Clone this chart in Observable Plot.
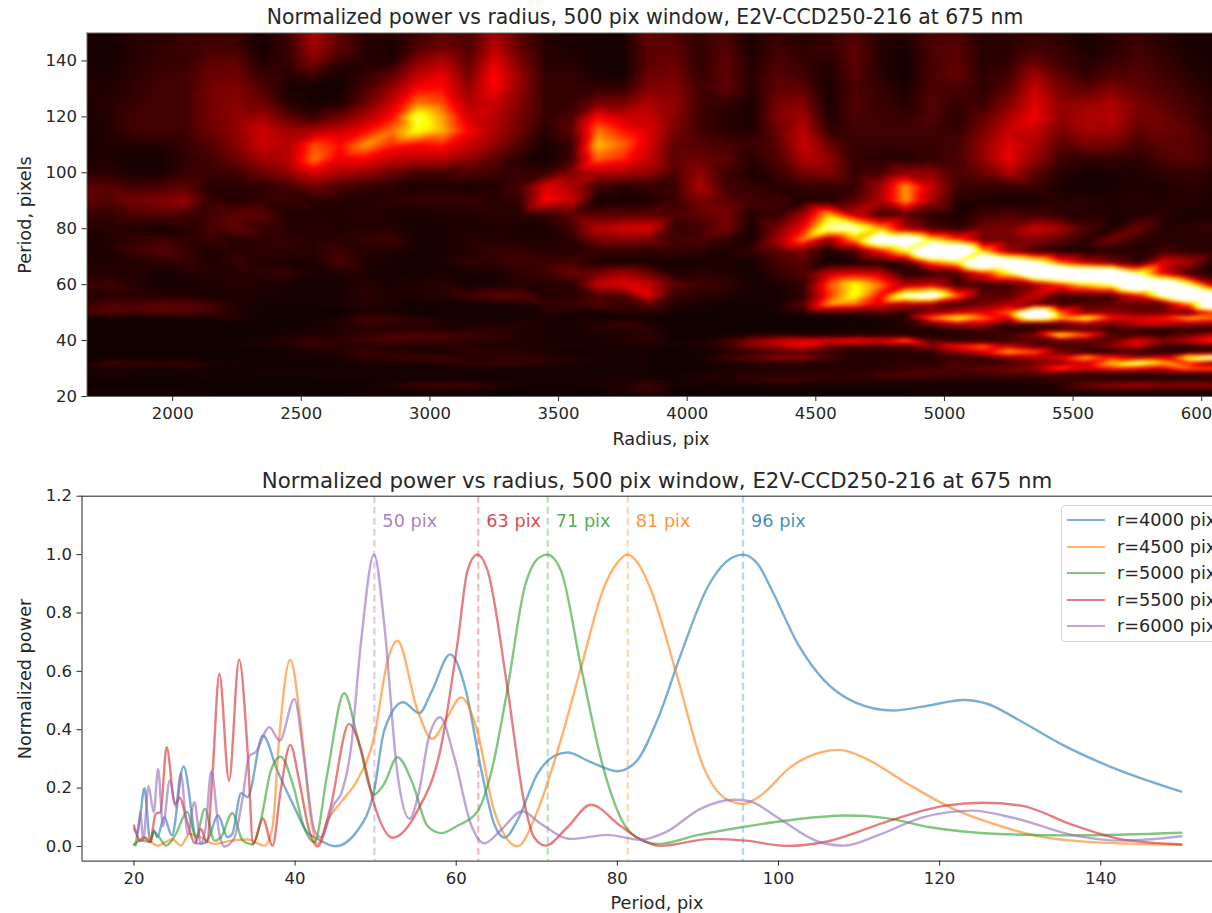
<!DOCTYPE html>
<html>
<head>
<meta charset="utf-8">
<script src="https://cdn.jsdelivr.net/npm/d3@7"></script>
<script src="https://cdn.jsdelivr.net/npm/@observablehq/plot@0.6"></script>
<style>
html,body{margin:0;padding:0;background:#fff;overflow:hidden;width:1212px;height:913px}
body{position:relative;font-family:"DejaVu Sans",sans-serif;color:#262626}
.t{position:absolute;white-space:nowrap;transform:translate(-50%,-50%)}
.lab{font-size:17.7px}
.rot{transform:translate(-50%,-50%) rotate(-90deg)}
#legend{position:absolute;left:1061px;top:505px;width:170px;height:137px;border:1.5px solid #d5d5d5;border-radius:4px;background:#fff;box-sizing:border-box}
#legend div{position:absolute;left:5px;height:0}
#legend i{position:absolute;left:0;top:-1px;width:38px;height:2.4px;opacity:.6}
#legend span{position:absolute;left:50px;top:-11px;font-size:17.7px;line-height:22px;white-space:nowrap}
</style>
</head>
<body>
<div class="t" style="left:645px;top:17px;font-size:20.4px">Normalized power vs radius, 500 pix window, E2V-CCD250-216 at 675 nm</div>
<div class="t lab" style="left:661px;top:439px">Radius, pix</div>
<div class="t lab rot" style="left:25px;top:215px">Period, pixels</div>
<div class="t" style="left:657px;top:480px;font-size:21.3px">Normalized power vs radius, 500 pix window, E2V-CCD250-216 at 675 nm</div>
<div class="t lab" style="left:657px;top:903px">Period, pix</div>
<div class="t lab rot" style="left:25px;top:679px">Normalized power</div>
<div id="legend"></div>
<script>
const radii = d3.range(1650, 6051, 100);
const p150=[.3,.2,.5,.6,.8,.8,.8,.3,1,3,1.5,.6,.5,1,1.5,1.2,2.8,1.5,.5,.3,.3,.2,1.8,1.3,.8,1.2,.4,.8,.6,.7,1.3,.6,.5,1.2,1.2,.6,.6,.8,.6,.3,.6,.8,.5,.3,.3];
const p145=[.3,.2,.5,.7,.9,1.1,1,.2,.8,2.8,1.5,.5,.3,1.2,1.8,1.2,3.2,1.5,.5,.3,.2,.2,1.5,1.5,.7,1.3,.3,1,.6,.8,1.5,.5,.3,1.2,1.4,.5,.6,1,.8,.3,.5,1,.6,.3,.3];
const p140=[.3,.2,.5,.8,.8,1.5,1.5,.4,.8,2.2,.8,.5,.4,2.2,3,1.5,4,2,.5,.5,.2,.2,1.5,1.7,.7,1.5,.4,1.2,.8,.5,1.5,.5,.2,1.1,1.5,.5,.7,1.6,1,.5,.8,1.2,.8,.4,.3];
const p135=[.4,.3,.6,.9,1,1.8,1.8,.8,.5,.8,.3,.8,1.5,3.3,4,2,4.6,2.5,.7,.7,.3,.2,1.8,2,.8,1.6,.5,1.4,1,.4,1.4,.6,.2,1.2,1.6,.6,1,2.8,1.5,.7,1.3,1.4,1,.6,.3];
const p130=[.5,.4,.7,1,1,2,2.2,1.3,.3,.2,.2,1.2,2.6,4.5,4.6,2.5,4.4,2.5,.8,.8,.8,.8,2.2,2.3,1,1.5,.5,1.6,1.5,.3,1.2,.8,.3,1.2,1.2,.6,1.5,3.5,2,1.5,2.2,1.6,1.2,.8,.4];
const p125=[.4,.5,.8,1,1,2,2.3,1.8,.6,.2,.4,1.8,3.5,6,5.4,3,3.5,2.2,.8,.8,2,2,3,2.5,1,.8,.3,2,2.2,.3,1.3,.9,.5,1.4,.8,.9,2.2,4,2.5,2.6,3,2,1.5,1,.5];
const p120=[.3,.5,1,1,1,2,2.4,2.8,1.5,.8,1.8,3,4.5,8.5,6.5,3.8,3.2,2,.8,1.2,4.5,3.5,3.5,2.3,.9,.5,.3,2.2,2.8,.4,1.2,.9,.8,1.3,.6,1.5,3,4.3,2.5,3,3.2,2,1.8,1.2,.6];
const p115=[.2,.5,1,1,1,1.8,2.5,3.6,2.8,3,3.5,4.5,6,8,6.8,4.5,3,1.8,.5,1.5,6,4.8,3.8,2,1,.6,.5,1.8,3.3,.8,1,1,1,1,.8,2,3.5,3.5,2,2.8,2.8,1.6,1.8,1.5,.7];
const p110=[.2,.4,.5,.5,.8,1.3,2.3,3.6,3.2,5.5,4.6,6.5,5,4.5,4.8,3.5,2.5,1.2,.3,.8,7,5.8,3.8,1.5,1.3,1.2,.9,1.5,3.5,1.8,.8,.8,.8,.8,1,2.5,4,3,1.5,2,1.8,1,1.5,1.5,.8];
const p105=[.3,.4,.2,.2,.7,1,1.8,2.8,3.2,6,4.2,4.4,3.5,3.2,3.2,2.5,1.5,.5,.2,1,5.8,5,3.5,1.5,1.8,1.5,.6,1.2,3,2.5,.8,.6,.4,.8,1.2,2.5,4.2,2.5,1,.7,.8,.6,1.2,1.5,.8];
const p100=[.5,.6,.3,.3,.8,.8,1,1.8,2.5,3.8,3,2.5,1.8,1,1,1.2,1,.8,.8,2.2,3,3,2.5,1.2,2.5,1,.3,.9,2,2.2,.8,1,2.5,2.5,1.2,1.8,3,1.5,.5,.2,.3,.4,.7,.8,.5];
const p95=[1.5,1.4,1,1.2,1.5,.5,.5,.6,1,1.8,1.2,.8,.6,.3,.4,.3,.4,1.2,4,3,1,.5,.8,.8,3,1,.8,.5,.8,.8,.8,2.8,6.5,3.5,1,.8,.8,.8,.3,.2,.3,.4,.4,.6,.4];
const p90=[1.6,1.3,2,2.2,2.6,.8,.5,.8,.8,.6,.5,.4,.6,.8,.8,.8,.5,.8,4.5,3.5,.2,.2,.3,.9,2,1.5,1,1,.4,.5,1.5,3,6.5,2.8,.5,.4,.3,.3,.5,.6,.4,.5,.4,.5,.4];
const p85=[.8,.7,1.2,1.3,1,1,1.5,1.5,.4,.4,.4,.5,.3,.3,.4,.4,.6,.5,.8,1.5,1.5,1.5,1.5,1.2,1.6,2,.5,.8,2.8,7,3.5,1,1.5,.6,.3,1,1.3,1,.6,.5,.4,.5,.6,.3,.3];
const p80=[.5,.5,.4,.2,.5,1.2,1.6,.8,.5,.5,.4,.5,.5,.3,.3,.3,.4,.3,.3,1,3.2,3.8,4,.8,1,2,.3,2,4.5,9.5,10,7,3,1.2,.7,2,2.2,3.6,3,1.2,.4,1.8,.5,.6,.8];
const p76=[.3,.4,.7,1,.7,.9,.5,.7,.7,.5,.5,.8,1,.3,.3,.5,.5,.4,.4,.6,2,2.2,2,1,1.2,.8,.3,2.8,6,2.5,6.5,12.5,13,8,5.5,1.8,1.8,2.2,1.5,.7,2,.8,.5,.5,.5];
const p72=[.3,.4,1,1.4,.8,.3,.6,.7,.6,.5,1,.5,.4,.2,.3,.4,.8,.8,.5,.5,.8,.8,.6,.8,.6,.4,.8,1.5,2,.3,1,4.5,8,16,16,7,2.5,1,.4,.3,.5,.4,1,.6,.6];
const p68=[.4,.4,.4,.6,.8,.4,.8,.4,.3,.4,1.2,.4,.3,.2,.3,.7,.7,1,.9,1.1,.3,.2,.3,.2,.3,.3,.2,1,1.5,.1,.2,.4,1.2,6,8,16,13,10,5.5,3,1.8,.6,4,3,.4];
const p64=[.5,.5,.5,.2,.4,.5,.5,.6,.8,.3,.4,.3,.3,.2,.3,.3,.3,.7,1,1.8,2,2.8,1.8,.4,.6,.5,.2,.8,1.3,3.5,4,3.5,.5,.8,1,4.5,8,14,16,15,15,9,4,1,.3];
const p60=[.8,1,.5,.2,.2,.4,.5,.4,.2,.2,.2,.5,.3,.4,.6,.2,.3,.5,.5,.6,3.5,4,3.5,1.5,1,.8,.3,.3,.8,5.5,8,6,3,3.5,.8,.8,1,2.5,5,7.5,9,16,14,9,3];
const p56=[.4,.5,.6,.5,.5,.3,.3,.3,.3,.3,.2,.6,.4,.4,.5,1,1.5,1.5,.4,.6,1.2,1.2,4,.8,.6,.4,.3,.2,.6,5,8,4.5,10,12,6,1.5,1.5,3.5,1,1,1,4,10,16,13];
const p53=[.8,1.3,1.2,1.5,1.4,1,.5,.2,.2,.2,.3,.5,.3,.2,.2,.2,.3,.3,.8,.8,1.3,.8,1.5,.5,.3,.2,.2,.3,1.5,6.5,6,4,3,2.5,1,2,3,2,1,1.2,1.5,1.5,1.5,6,16];
const p50=[1,1.5,1.2,1.4,1.3,1,.4,.2,.1,.1,.1,.3,.3,.1,.2,.2,.2,.2,.4,.4,.3,.5,.5,.2,.2,.1,.1,.2,.5,1,1,1.5,.8,2.4,3.6,4,6,15,6,2.4,2.4,1.8,1.8,1.2,4.8];
const p48=[.1,.1,.1,.1,.2,.3,.5,.1,.1,.1,.3,1,.9,.5,.3,.2,.2,.2,.3,.2,.2,.1,.1,.1,.1,.1,.2,.2,.1,.1,.1,.3,.6,6,8.5,6,4,11,7,8.5,4.8,4,4.8,7,6];
const p46=[.1,.1,.1,.1,.1,.1,.1,.1,.1,.2,.5,.9,.7,.7,.4,.3,.4,.5,.3,.3,.5,1,.4,.1,.1,.1,.1,.1,.1,.2,.2,.2,.5,1.8,3.5,3.5,1,1.2,1.2,3,1.8,3.5,3.5,3,2.4];
const p44=[.1,.1,.1,.1,.1,.1,.1,.1,.2,.3,.4,.5,.4,.5,.4,.5,.7,.5,.3,.2,.6,.5,.6,.1,.1,.1,.1,.1,.1,.2,.2,.3,.3,.3,.6,1,.4,.5,1,.8,.7,.8,.5,.5,.5];
const p42=[.1,.1,.1,.1,.1,.1,.1,.1,.3,.4,.5,.8,1.2,1.3,1.2,.9,.7,.4,.3,.3,.3,.4,.6,.1,.1,.2,.4,.7,.4,.3,.6,.5,.4,.5,.6,.8,1.2,2.4,8.5,6,1.2,1,.6,1.8,3.6];
const p40=[.1,.1,.1,.1,.1,.1,.1,.3,.6,.8,.7,1,1.2,1,.9,.7,.6,.5,.3,.3,.3,.5,.7,.2,.3,1,2.4,3.6,4.2,4.2,4.8,4.2,6,1.2,.6,.7,.7,1.2,1.8,1.4,1.8,4.2,2.4,3.6,5.4];
const p38=[.1,.1,.1,.1,.1,.1,.2,.3,.4,.8,.5,.5,.4,.4,.4,.5,.3,.3,.4,.4,.3,.2,.2,.2,.3,.8,2.2,3,4.2,1.8,1.2,1.2,1.2,2.4,4.8,6,3.6,1.4,1,1.4,2.4,3.6,1,.8,1.2];
const p36=[.1,.1,.1,.1,.1,.1,.1,.1,.2,.3,.5,.8,.7,.3,.3,.7,.7,.6,.3,.2,.2,.2,.2,.1,.2,.3,.6,1,1.2,.7,.4,.4,.5,.7,2.4,4.2,7.2,6,1.8,.6,.4,.5,.4,.5,.6];
const p34=[.1,.1,.1,.1,.1,.1,.1,.1,.2,.2,.3,.8,.8,1,1,.4,.4,.6,.6,.4,.3,.2,.2,.1,.2,1,1.6,2.4,2.6,1.2,.5,.5,.6,.5,.7,1,2.4,3,4.2,7.2,4.8,3,3.6,9,11];
const p32=[.2,1,.9,.8,.9,.4,.2,.1,.1,.1,.2,.3,.3,.3,.5,.8,1,.9,.6,.4,.3,.2,.2,.1,.2,.4,.5,.7,.6,.4,.4,.4,.7,.6,1.2,.7,1,1.8,2.4,3.6,7.2,9.5,7.2,4.8,1.8];
const p30=[.1,.3,.3,.2,.3,.1,.1,.2,.2,.2,.2,.2,.2,.2,.2,.2,.2,.2,.2,.2,.2,.2,.2,.1,.1,.2,.4,.4,.4,.5,.5,.5,.7,1,1.2,1.8,1.8,2.4,5.4,3.6,4.8,4.2,3.6,6,6];
const p28=[.1,.4,.3,.2,.2,.2,.2,.2,.3,.3,.2,.3,.2,.2,.2,.2,.2,.2,.2,.2,.2,.2,.2,.2,.4,.4,.6,.6,.6,.6,.6,1.2,1.4,1.2,1,1,1.4,1.2,1,.7,.7,.7,.7,.7,.6];
const p26=[.1,.1,.1,.1,.1,.2,.1,.1,.1,.1,.2,.2,.2,.2,.2,.2,.2,.2,.2,.2,.3,.4,.4,.1,.4,.4,.7,1,1,.6,.6,.6,.6,.6,.5,.5,.5,.6,.8,.8,.6,.6,.6,.6,.6];
const p24=[.1,.1,.1,.1,.1,.1,.1,.1,.1,.1,.1,.1,.5,1,1.1,1,.6,.2,.2,.2,.3,.4,1,.3,.2,.2,.2,.3,.3,.3,.3,.3,.3,.3,.3,.3,.3,.3,.7,1.8,2.6,3,2.4,2.6,2.6];
const p22=[.2,.2,.2,.2,.2,.1,.1,.1,.1,.1,.1,.2,.1,.2,.2,.2,.1,.1,.1,.1,.1,.4,.8,.1,.1,.1,.1,.1,.1,.1,.1,.1,.1,.2,.2,.2,.2,.2,.3,.4,.6,.5,.5,.5,.5];
const p20=[.3,.2,.2,.2,.2,.2,.2,.2,.2,.2,.2,.2,.3,.3,.3,.2,.2,.2,.2,.2,.2,.2,.2,.2,.2,.2,.2,.2,.2,.2,.2,.2,.2,.2,.2,.2,.2,.3,.3,.3,.4,.4,.4,.4,.4];
const rows=[[150,p150],[145,p145],[140,p140],[135,p135],[130,p130],[125,p125],[120,p120],[115,p115],[110,p110],[105,p105],[100,p100],[95,p95],[90,p90],[85,p85],[80,p80],[76,p76],[72,p72],[68,p68],[64,p64],[60,p60],[56,p56],[53,p53],[50,p50],[48,p48],[46,p46],[44,p44],[42,p42],[40,p40],[38,p38],[36,p36],[34,p34],[32,p32],[30,p30],[28,p28],[26,p26],[24,p24],[22,p22],[20,p20]];
const cells=rows.flatMap(([period,vals])=>vals.map((v,i)=>({radius:radii[i],period,v})));

const r4000=[[20.2,.004],[20.8,.11],[21.3,.2],[22,.02],[22.5,.055],[22.9,.032],[23.75,.1],[24.7,.038],[26.15,.274],[27.9,.01],[28.5,.01],[29.1,.02],[30.45,.106],[31.6,.032],[32.2,.043],[33.3,.183],[34.1,.169],[36,.38],[37.8,.26],[39.9,.135],[41.5,.049],[42.8,.026],[45,.001],[47.75,.055],[49.8,.19],[51.06,.397],[53.4,.494],[55.4,.457],[57,.534],[59.25,.658],[61.2,.534],[63.05,.27],[64.7,.078],[66,.03],[67.6,.09],[70.1,.25],[72.15,.31],[73.8,.322],[76.7,.289],[80,.258],[82.3,.29],[85.1,.443],[87.9,.66],[91.2,.888],[93.5,.975],[95.6,1],[97.5,.965],[99.2,.877],[102.4,.694],[105.7,.568],[109.5,.494],[114.2,.466],[117.9,.479],[123,.502],[125.9,.489],[129.6,.437],[135.2,.349],[141.3,.272],[150,.188]];
const r4500=[[20,.007],[21.3,.032],[22.9,.003],[24.8,.024],[25.8,.003],[26.9,.043],[28.3,.032],[30,.009],[32.1,.02],[34.1,.024],[36.2,.003],[37.2,.066],[38,.363],[39.4,.64],[40.7,.422],[42,.089],[42.8,.009],[44,.089],[45.7,.152],[47.7,.226],[49.8,.374],[51.5,.638],[52.7,.705],[55.2,.466],[57,.369],[58.9,.443],[60.6,.511],[62.6,.397],[64.7,.123],[67.6,.001],[70.1,.123],[72.6,.329],[75.5,.614],[78.35,.888],[79.8,.965],[81.25,1],[82.7,.965],[84.2,.877],[87.45,.58],[90.7,.272],[93.5,.163],[95.65,.146],[97.8,.175],[101.5,.272],[105.3,.323],[107.6,.331],[110.9,.3],[116,.215],[121.7,.129],[127.3,.072],[132.9,.032],[139,.015],[150,.006]];
const r5000=[[20,.007],[20.9,.02],[22.1,.015],[22.4,.05],[23.1,.032],[24,.003],[25.2,.043],[26.6,.118],[27.7,.032],[28.8,.129],[30,.02],[30.8,.032],[32.2,.114],[33.5,.02],[34.7,.007],[35.75,.09],[37,.26],[38.2,.308],[39.7,.215],[41.1,.066],[42.4,.015],[44,.25],[46.1,.525],[47.75,.374],[49.8,.178],[51.06,.215],[52.7,.306],[54.6,.215],[56.4,.072],[58.1,.046],[60.2,.072],[62.6,.118],[64.3,.249],[66.4,.546],[68.4,.877],[70.1,.985],[71.3,1],[73,.945],[75.5,.614],[78.35,.26],[80.8,.078],[82.9,.023],[85.1,.009],[89.8,.038],[95.4,.066],[101,.089],[108.5,.106],[113.2,.098],[118.8,.066],[127.3,.043],[136.7,.038],[150,.047]];
const r5500=[[20,.072],[20.8,.02],[21.3,.03],[22,.015],[22.7,.112],[23.3,.118],[24.05,.34],[25.1,.146],[25.7,.167],[26.45,.1],[27.6,.011],[28.3,.06],[29.05,.015],[29.75,.25],[30.6,.591],[31.8,.226],[33.05,.64],[34.1,.33],[34.8,.009],[36,.095],[37.2,.003],[38.2,.19],[39.4,.348],[40.5,.226],[41.75,.055],[42.8,0],[44.4,.135],[46.7,.42],[48.2,.33],[49.8,.146],[52.1,.03],[55.2,.123],[58.1,.34],[60.2,.705],[61.4,.945],[62.6,1],[63.9,.945],[66.4,.534],[68.4,.157],[69.7,.03],[71.1,.003],[73.8,.066],[76.7,.143],[80.4,.07],[82.8,.026],[85.3,.002],[91.7,.026],[95.9,.02],[101,.002],[106.2,.018],[113.2,.083],[120.7,.14],[125.4,.15],[130.1,.14],[136.7,.072],[142.3,.026],[150,.007]];
const r6000=[[20,.06],[20.45,.043],[20.8,.118],[21.15,.02],[21.8,.207],[22.45,.118],[23,.266],[23.6,.07],[24.45,.226],[25.2,.135],[25.8,.25],[26.7,.043],[27.5,.152],[28.3,.01],[28.9,.066],[29.6,.258],[30.6,.043],[31.2,0],[32.4,.026],[33.5,.169],[34.3,.31],[35.1,.323],[36.8,.409],[38.1,.363],[39.9,.505],[41.1,.306],[42.4,.055],[43.2,.032],[44.85,.146],[45.7,.18],[46.9,.33],[48.2,.705],[49.8,1],[51.06,.763],[52.7,.25],[54.2,.095],[55.4,.19],[56.6,.374],[58,.443],[59.75,.306],[61.8,.078],[63.5,.011],[65.5,.055],[68.2,.121],[70.5,.078],[74.2,.026],[78.8,.04],[82.9,.023],[86,.049],[90.3,.129],[94.5,.16],[96.4,.155],[100.1,.095],[104.8,.018],[108.1,.003],[112.3,.038],[117.9,.1],[124,.123],[129.6,.095],[136.7,.038],[142.7,.02],[150,.035]];

const seriesNames=["r=4000 pix","r=4500 pix","r=5000 pix","r=5500 pix","r=6000 pix"];
const seriesColors=["#1f77b4","#ff7f0e","#2ca02c","#d62728","#9467bd"];
const seriesData=[r4000,r4500,r5000,r5500,r6000];
const peakPeriods=[95.6,81.29,71.36,62.74,49.84];
const peakLabels=["96 pix","81 pix","71 pix","63 pix","50 pix"];
const radiusTicks=[2000,2500,3000,3500,4000,4500,5000,5500,6000];
const periodTicks=[20,40,60,80,100,120,140];
const lagTicks=[20,40,60,80,100,120,140];
const powerTicks=[0,.2,.4,.6,.8,1,1.2];

const top_=Plot.plot({
  width:1212,height:450,marginLeft:86.5,marginRight:0,marginTop:32.5,marginBottom:54,
  style:{position:"absolute",left:"0",top:"0",background:"transparent",color:"#262626",fontFamily:"DejaVu Sans"},
  x:{domain:[1667,6042]},y:{domain:[20,150]},
  color:{type:"linear",domain:[0,4.5,7.8,10],range:["#0b0000","#ff0000","#ffff00","#ffffff"],interpolate:"rgb",clamp:true},
  marks:[
    Plot.raster(cells,{x:"radius",y:"period",fill:"v",interpolate:"barycentric",pixelSize:1,blur:1.2}),
    Plot.ruleY([150],{stroke:"#666"}),Plot.ruleY([20],{stroke:"#666"}),Plot.ruleX([1667],{stroke:"#666"}),
    Plot.axisX({ticks:radiusTicks,tickSize:5,tickPadding:6,fontSize:16.5,label:null,tickFormat:"d"}),
    Plot.axisY({ticks:periodTicks,tickSize:5,tickPadding:5,fontSize:16.5,label:null})
  ]
});
document.body.appendChild(top_);

const bottom=Plot.plot({
  width:1212,height:453,marginLeft:81.5,marginRight:0,marginTop:35.7,marginBottom:52.4,
  style:{position:"absolute",left:"0",top:"460px",background:"transparent",color:"#262626",fontFamily:"DejaVu Sans"},
  x:{domain:[13.55,153.87]},y:{domain:[-.05,1.2]},
  marks:[
    Plot.ruleX(peakPeriods,{stroke:(d,i)=>seriesColors[i],strokeOpacity:.3,strokeWidth:2.4,strokeDasharray:"7,4"}),
    ...seriesData.map((s,i)=>Plot.line(s,{x:d=>d[0],y:d=>d[1],curve:"monotone-x",stroke:seriesColors[i],strokeOpacity:.6,strokeWidth:2.4})),
    Plot.text(peakLabels,{x:(d,i)=>peakPeriods[i],y:()=>1.115,dx:8,text:d=>d,textAnchor:"start",fill:(d,i)=>seriesColors[i],fillOpacity:.85,fontSize:17.7}),
    Plot.ruleY([1.2],{stroke:"#222"}),Plot.ruleY([-.05],{stroke:"#222"}),Plot.ruleX([13.55],{stroke:"#222"}),
    Plot.axisX({ticks:lagTicks,tickSize:5,tickPadding:6,fontSize:16.5,label:null}),
    Plot.axisY({ticks:powerTicks,tickSize:5,tickPadding:5,fontSize:16.5,label:null,tickFormat:d3.format(".1f")})
  ]
});
document.body.appendChild(bottom);

const legend=document.getElementById("legend");
seriesNames.forEach((n,i)=>{
  const row=document.createElement("div");
  row.style.top=(14+26.5*i)+"px";
  row.innerHTML=`<i style="background:${seriesColors[i]}"></i><span>${n}</span>`;
  legend.appendChild(row);
});
</script>
</body>
</html>
